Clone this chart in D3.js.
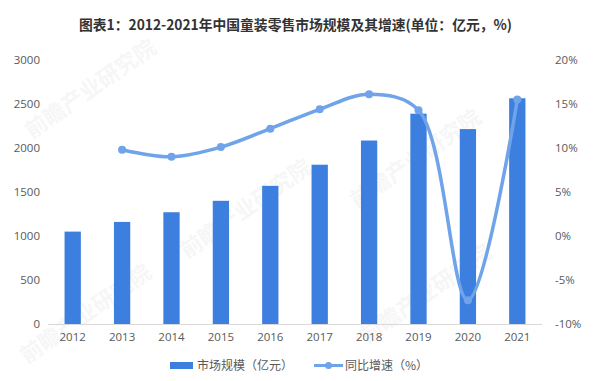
<!DOCTYPE html>
<html><head><meta charset="utf-8">
<script src="https://cdn.jsdelivr.net/npm/d3@7"></script>
<style>body{margin:0;background:#fff}svg{display:block}</style>
</head><body><svg id="c" width="600" height="381"></svg>
<script>
const years = ["2012","2013","2014","2015","2016","2017","2018","2019","2020","2021"];
const marketSize = [1050,1160,1270,1400,1570,1810,2085,2390,2215,2565];
const growthYears = ["2013","2014","2015","2016","2017","2018","2019","2020","2021"];
const growthRate = [9.8,9.0,10.1,12.2,14.4,16.1,14.3,-7.3,15.5];
const leftTicks = [0,500,1000,1500,2000,2500,3000];
const rightTicks = [-10,-5,0,5,10,15,20];
const title = "图表1：2012-2021年中国童装零售市场规模及其增速(单位：亿元，%)";
const legendLabels = ["市场规模（亿元）","同比增速（%）"];

const svg = d3.select("#c");
const font = "'Noto Sans CJK SC','Noto Sans',sans-serif";
const tickFont = "'Open Sans','Noto Sans',sans-serif";
const barColor = "#3c7fde", lineColor = "#6fa3ea", textColor = "#595959";

const x = d3.scaleBand().domain(years).range([48, 542]).paddingInner(0.67).paddingOuter(0.335);
const yL = d3.scaleLinear().domain([0,3000]).range([324,60]);
const yR = d3.scaleLinear().domain([-10,20]).range([324,60]);

// watermarks
const wm = [[95,95],[250,215],[430,300],[420,165],[90,320]];
wm.forEach(([wx,wy])=>{
  svg.append("text").attr("transform",`translate(${wx},${wy}) rotate(-35)`)
    .attr("text-anchor","middle").attr("font-family",font).attr("font-size",22).attr("font-weight","bold")
    .attr("fill","#000").attr("opacity",0.03).text("前瞻产业研究院");
});

svg.append("text").attr("x",79).attr("y",30).attr("textLength",433).attr("lengthAdjust","spacingAndGlyphs")
  .attr("font-family",font).attr("font-size",14).attr("font-weight","bold").attr("fill","#333").text(title);

// bars
svg.selectAll("rect.bar").data(years).join("rect").attr("class","bar")
  .attr("x",d=>x(d)).attr("width",x.bandwidth())
  .attr("y",(d,i)=>yL(marketSize[i])).attr("height",(d,i)=>yL(0)-yL(marketSize[i]))
  .attr("fill",barColor);

// x axis
const xa = svg.append("g").attr("transform","translate(0,324)").call(d3.axisBottom(x).tickSize(0).tickPadding(9));
xa.select(".domain").attr("stroke","#d9d9d9").attr("d","M48,0.5H542");
xa.selectAll("text").attr("font-family",tickFont).attr("font-size",11.5).attr("fill",textColor);

const la = svg.append("g").attr("transform","translate(40,0)").call(d3.axisLeft(yL).tickValues(leftTicks).tickSize(0).tickPadding(0).tickFormat(d3.format("d")));
la.select(".domain").remove();
la.selectAll("text").attr("font-family",tickFont).attr("font-size",11.5).attr("fill",textColor);

const ra = svg.append("g").attr("transform","translate(555,0)").call(d3.axisRight(yR).tickValues(rightTicks).tickSize(0).tickPadding(0).tickFormat(d=>d+"%"));
ra.select(".domain").remove();
ra.selectAll("text").attr("font-family",tickFont).attr("font-size",11.5).attr("fill",textColor);

// line
const pts = growthYears.map((yr,i)=>[x(yr)+x.bandwidth()/2, yR(growthRate[i])]);
svg.append("path").attr("d",d3.line().curve(d3.curveCatmullRom.alpha(0.5))(pts))
  .attr("fill","none").attr("stroke",lineColor).attr("stroke-width",3.5);
svg.selectAll("circle.pt").data(pts).join("circle").attr("class","pt")
  .attr("cx",d=>d[0]).attr("cy",d=>d[1]).attr("r",4).attr("fill",lineColor);

// legend
svg.append("rect").attr("x",170).attr("y",362).attr("width",23).attr("height",7).attr("fill",barColor);
svg.append("text").attr("x",197).attr("y",369.5).attr("font-family",font).attr("font-size",12).attr("fill",textColor).text(legendLabels[0]);
svg.append("line").attr("x1",314).attr("x2",343).attr("y1",365.5).attr("y2",365.5).attr("stroke",lineColor).attr("stroke-width",3);
svg.append("circle").attr("cx",328.5).attr("cy",365.5).attr("r",3.5).attr("fill",lineColor);
svg.append("text").attr("x",345).attr("y",369.5).attr("font-family",font).attr("font-size",12).attr("fill",textColor).text(legendLabels[1]);
</script></body></html>
